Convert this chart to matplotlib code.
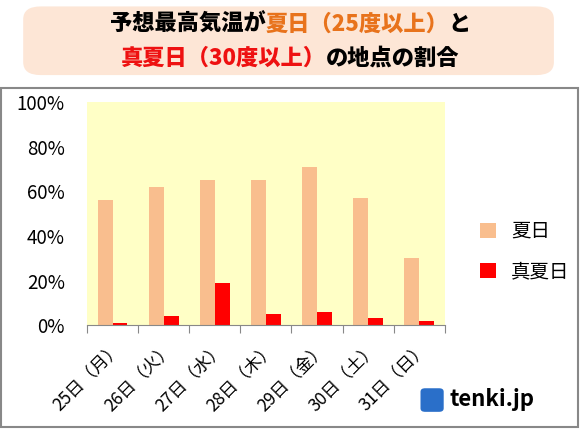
import matplotlib.pyplot as plt
import numpy as np
from matplotlib.patches import FancyBboxPatch, Rectangle

plt.rcParams['font.family'] = ['Noto Sans CJK JP', 'DejaVu Sans']

days = ["25日（月）", "26日（火）", "27日（水）", "28日（木）", "29日（金）", "30日（土）", "31日（日）"]
natsubi = [56, 62, 65, 65, 71, 57, 30]
manatsubi = [1, 4, 19, 5, 6, 3, 2]
yticks = [0, 20, 40, 60, 80, 100]

fig = plt.figure(figsize=(5.8, 4.29), dpi=100)

# outer chart frame
fig.patches.append(Rectangle((0.002, 0.005), 0.994, 0.79, transform=fig.transFigure,
                             fill=False, edgecolor="#888888", linewidth=1.5))
# title box
fig.patches.append(FancyBboxPatch((0.04, 0.825), 0.915, 0.16, transform=fig.transFigure,
                                  boxstyle="round,pad=0,rounding_size=0.03",
                                  facecolor="#fde6d6", edgecolor="none"))


def colored_line(parts, y, size=16):
    # draw pieces of text side by side, then center the whole line
    renderer = fig.canvas.get_renderer()
    texts = []
    x = 0
    for s, c in parts:
        t = fig.text(x, y, s, color=c, fontsize=size, fontweight="heavy", va="center", ha="left")
        fig.canvas.draw()
        bb = t.get_window_extent(renderer)
        w = bb.width / fig.bbox.width
        texts.append((t, x))
        x += w
    off = 0.5 - x / 2
    for t, x0 in texts:
        t.set_x(x0 + off)


colored_line([("予想最高気温が", "black"), ("夏日（25度以上）", "#e8731c"), ("と", "black")], 0.943)
colored_line([("真夏日（30度以上）", "#ee1111"), ("の地点の割合", "black")], 0.865)

ax = fig.add_axes([0.15, 0.242, 0.617, 0.52])
ax.set_facecolor("#ffffc6")
x = np.arange(len(days))
w = 0.29
ax.bar(x - w / 2, natsubi, w, color="#f9be8e", label="夏日")
ax.bar(x + w / 2, manatsubi, w, color="#ff0000", label="真夏日")
ax.set_xlim(-0.5, len(days) - 0.5)
ax.set_ylim(0, 100)
ax.set_yticks(yticks)
ax.set_yticklabels([f"{v}%" for v in yticks], fontsize=13.5)
ax.set_xticks(np.arange(len(days) + 1) - 0.5, minor=False)
ax.set_xticklabels([])
ax.set_xticks(x, minor=True)
ax.set_xticklabels(days, minor=True, rotation=45, ha="right", rotation_mode="anchor", fontsize=12.5)
ax.tick_params(axis="x", which="major", length=6, color="#888888")
ax.tick_params(axis="x", which="minor", length=0, pad=10)
ax.tick_params(axis="y", length=0, pad=16)
for s in ["top", "right", "left"]:
    ax.spines[s].set_visible(False)
ax.spines["bottom"].set_color("#888888")

ax.legend(loc="center left", bbox_to_anchor=(1.05, 0.33), frameon=False, fontsize=14,
          handlelength=0.8, handleheight=0.8, labelspacing=1.0)

# logo
fig.patches.append(FancyBboxPatch((0.725, 0.04), 0.04, 0.055, transform=fig.transFigure,
                                  boxstyle="round,pad=0,rounding_size=0.008",
                                  facecolor="#2a6fc9", edgecolor="none"))
fig.text(0.775, 0.068, "tenki.jp", fontsize=16, fontweight="bold", va="center", ha="left")

fig.savefig("out.png", dpi=100)
